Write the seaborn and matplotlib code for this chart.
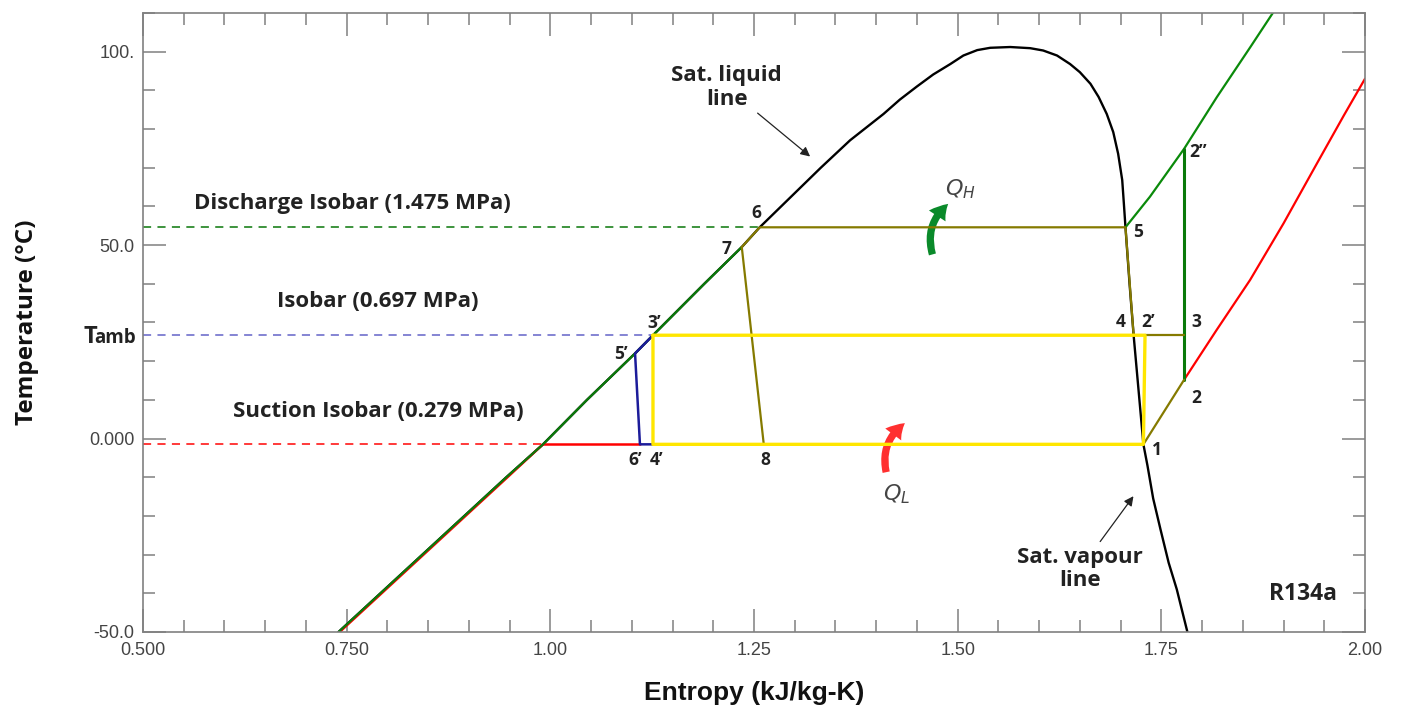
import numpy as np
import pandas as pd
import seaborn as sns
import matplotlib.pyplot as plt
from matplotlib.ticker import MultipleLocator
from matplotlib.patches import FancyArrowPatch

# saturation dome of R134a
liq_s = [0.740, 0.843, 0.946, 0.991, 1.045, 1.104, 1.126, 1.189, 1.235, 1.257,
         1.332, 1.368, 1.3885, 1.409, 1.429, 1.450, 1.470, 1.491, 1.507, 1.524,
         1.540, 1.5645]
liq_T = [-50, -30, -10, -1.5, 10, 22.0, 26.7, 40, 49.5, 54.6,
         70, 77.1, 80.5, 83.9, 87.6, 91.0, 94.1, 96.8, 99.0, 100.4,
         101.0, 101.2]
vap_s = [1.5645, 1.589, 1.605, 1.622, 1.638, 1.650, 1.663, 1.673, 1.683, 1.691,
         1.697, 1.702, 1.704, 1.706, 1.711, 1.716, 1.728, 1.733, 1.740, 1.749,
         1.759, 1.769, 1.782]
vap_T = [101.2, 100.9, 100.3, 99.0, 96.8, 94.7, 91.7, 88.3, 83.9, 79.2,
         73.6, 66.8, 60.8, 54.6, 40, 26.7, -1.5, -7.0, -15.5, -23.5,
         -32.1, -39, -50]

# isobar saturation temperatures
T_high = 54.6   # discharge 1.475 MPa
T_amb = 26.7    # 0.697 MPa
T_low = -1.5    # suction 0.279 MPa

# superheated vapour isobars
dis_s = [1.706, 1.736, 1.778, 1.818, 1.859, 1.890]
dis_T = [54.6, 62.5, 74.9, 88.2, 101.1, 111.0]
suc_s = [1.778, 1.818, 1.859, 1.900, 1.941, 1.974, 2.000]
suc_T = [15.2, 28.1, 41.0, 55.6, 71.1, 83.5, 93.0]

# compressed liquid branches along the sat. liquid line
cl_hi_s = [0.740, 0.843, 0.946, 0.991, 1.045, 1.104, 1.126, 1.189, 1.235]
cl_hi_T = [-50, -30, -10, -1.5, 10, 22.0, 26.7, 40, 49.5]
cl_lo_s = [0.7415, 0.8445, 0.9475, 0.991]
cl_lo_T = [-50, -30, -10, -1.5]

# state points
pt_name = ["1", "2", "2’", "2”", "3", "3’", "4", "4’", "5", "5’", "6", "6’", "7", "8", "f"]
pt_s = [1.728, 1.778, 1.730, 1.778, 1.778, 1.126, 1.716, 1.126, 1.706, 1.104,
        1.257, 1.110, 1.235, 1.262, 0.991]
pt_T = [-1.5, 15.2, 26.7, 74.9, 26.7, 26.7, 26.7, -1.5, 54.6, 22.0,
        54.6, -1.5, 49.5, -1.5, -1.5]

x_ticks = [0.5, 0.75, 1.0, 1.25, 1.5, 1.75, 2.0]
x_labels = ["0.500", "0.750", "1.00", "1.25", "1.50", "1.75", "2.00"]
y_ticks = [-50, 0, 50, 100]
y_labels = ["-50.0", "0.000", "50.0", "100."]

P = {n: (s, t) for n, s, t in zip(pt_name, pt_s, pt_T)}

sns.set_style("ticks")
plt.rcParams['font.family'] = ['Open Sans', 'DejaVu Sans']
narrow = ['Liberation Sans Narrow', 'Liberation Sans', 'DejaVu Sans']

fig = plt.figure(figsize=(14.02, 7.17), dpi=100)
ax = fig.add_axes([0.102, 0.1186, 0.9736 - 0.102, 0.9819 - 0.1186])


def line(s, T, color, lw=1.6, **kw):
    df = pd.DataFrame({'s': s, 'T': T})
    sns.lineplot(data=df, x='s', y='T', sort=False, estimator=None,
                 color=color, lw=lw, ax=ax, **kw)


def path(names, color, lw=1.6):
    line([P[n][0] for n in names], [P[n][1] for n in names], color, lw)


# dome
line(liq_s + vap_s[1:], liq_T + vap_T[1:], 'black', 1.7)

# dashed isobars from the axis
line([0.5, P["6"][0]], [T_high, T_high], '#2e8b2e', 1.3, linestyle=(0, (4.5, 3.5)))
line([0.5, P["3’"][0]], [T_amb, T_amb], '#7b7bd0', 1.3, linestyle=(0, (4.5, 3.5)))
line([0.5, P["f"][0]], [T_low, T_low], '#ff2a2a', 1.3, linestyle=(0, (4.5, 3.5)))

# suction isobar (red)
line(cl_lo_s, cl_lo_T, '#ff0000', 1.7)
path(["f", "6’"], '#ff0000', 1.8)
line(suc_s, suc_T, '#ff0000', 1.6)

# discharge isobar (green)
line(cl_hi_s, cl_hi_T, '#0a7a0a', 1.6)
line(dis_s, dis_T, '#0a8a0a', 1.6)
path(["2", "2”"], '#0a7a0a', 2.2)

# olive segments
olive = '#857a00'
for seg in [["7", "6", "5", "4"], ["7", "8"], ["2’", "3"], ["1", "2"]]:
    path(seg, olive, 1.6)

# blue (0.697 MPa subcooling branch)
path(["3’", "5’", "6’", "4’"], '#1c1c9a', 1.8)

# yellow cycle
path(["3’", "2’", "1", "4’", "3’"], '#ffe600', 2.4)

ax.set_xlim(0.5, 2.0)
ax.set_ylim(-50, 110)
ax.set_xticks(x_ticks)
ax.set_xticklabels(x_labels)
ax.set_yticks(y_ticks)
ax.set_yticklabels(y_labels)
ax.xaxis.set_minor_locator(MultipleLocator(0.05))
ax.yaxis.set_minor_locator(MultipleLocator(10))
ax.tick_params(which='both', direction='in', top=True, right=True,
               colors='#808080', labelcolor='#444444', width=1.1)
ax.tick_params(which='major', length=16.5, labelsize=13)
ax.tick_params(which='minor', length=8.3)
ax.tick_params(axis='x', which='major', pad=7)
ax.tick_params(axis='y', which='major', pad=6)
for lab in ax.get_xticklabels() + ax.get_yticklabels():
    lab.set_family(narrow)
for sp in ax.spines.values():
    sp.set_color('#808080')
    sp.set_linewidth(1.2)

ax.set_xlabel('Entropy (kJ/kg-K)', fontsize=19, fontweight='bold',
              family=narrow, labelpad=16, color='#111111')
ax.set_ylabel('Temperature (°C)', fontsize=17.5, fontweight='bold',
              labelpad=36, color='#111111')

# state point labels, offset in pixels from each point
offsets = {"6": (-3, 14), "7": (-15, -2), "3’": (1, 12), "5’": (-14, -1),
           "6’": (-5, -16), "4’": (4, -16), "8": (2, -16), "5": (13, -5),
           "4": (-13, 13), "2’": (3, 13), "3": (12, 13), "2": (12, -18),
           "1": (14, -6), "2”": (14, -3)}
for n, (dx, dy) in offsets.items():
    ax.annotate(n, P[n], xytext=(dx, dy), textcoords='offset pixels',
                ha='center', va='center', fontsize=12.5, fontweight='bold',
                color='#222222')

tkw = dict(fontsize=16, fontweight='bold', color='#222222', ha='center', va='center')
ax.text(0.7575, 60.7, 'Discharge Isobar (1.475 MPa)', **tkw)
ax.text(0.7885, 35.3, 'Isobar (0.697 MPa)', **tkw)
ax.text(0.789, 7.0, 'Suction Isobar (0.279 MPa)', **tkw)
ax.text(1.924, -40.2, 'R134a', fontsize=16.5, fontweight='bold', color='#222222',
        ha='center', va='center')

ax.annotate('Sat. liquid\nline', xy=(1.3189, 72.9), xytext=(1.2166, 90.7),
            ha='center', va='center', fontsize=16, fontweight='bold',
            color='#222222', linespacing=1.15,
            arrowprops=dict(arrowstyle='-|>', color='#222222', lw=0.9,
                            mutation_scale=14, shrinkA=0, shrinkB=0))
ax.annotate('Sat. vapour\nline', xy=(1.7158, -14.9), xytext=(1.650, -33.8),
            ha='center', va='center', fontsize=16, fontweight='bold',
            color='#222222', linespacing=1.15,
            arrowprops=dict(arrowstyle='-|>', color='#222222', lw=0.9,
                            mutation_scale=14, shrinkA=2, shrinkB=0))

# Tamb label beside the axis
ax.annotate('amb', (0, T_amb), xycoords=('axes fraction', 'data'),
            xytext=(-7, -8), textcoords='offset pixels', ha='right',
            va='baseline', fontsize=13.5, fontweight='bold', color='#222222')
ax.annotate('T', (0, T_amb), xycoords=('axes fraction', 'data'),
            xytext=(-46, -8), textcoords='offset pixels', ha='right',
            va='baseline', fontsize=17, fontweight='bold', color='#222222')

# heat flow arrows
for tail, head, col in [((1.470, 46.9), (1.491, 61.1), '#0a8a2a'),
                        ((1.413, -9.4), (1.438, 4.4), '#ff3030')]:
    ax.add_patch(FancyArrowPatch(tail, head, connectionstyle='arc3,rad=-0.35',
                                 arrowstyle='simple,head_width=1.1,head_length=0.9,tail_width=0.4',
                                 mutation_scale=13, color=col, lw=0))
ax.text(1.503, 64.5, '$Q_H$', fontsize=16, color='#444444', ha='center', va='center')
ax.text(1.425, -14.5, '$Q_L$', fontsize=16, color='#444444', ha='center', va='center')

fig.savefig('out.png', dpi=100, facecolor='white')
